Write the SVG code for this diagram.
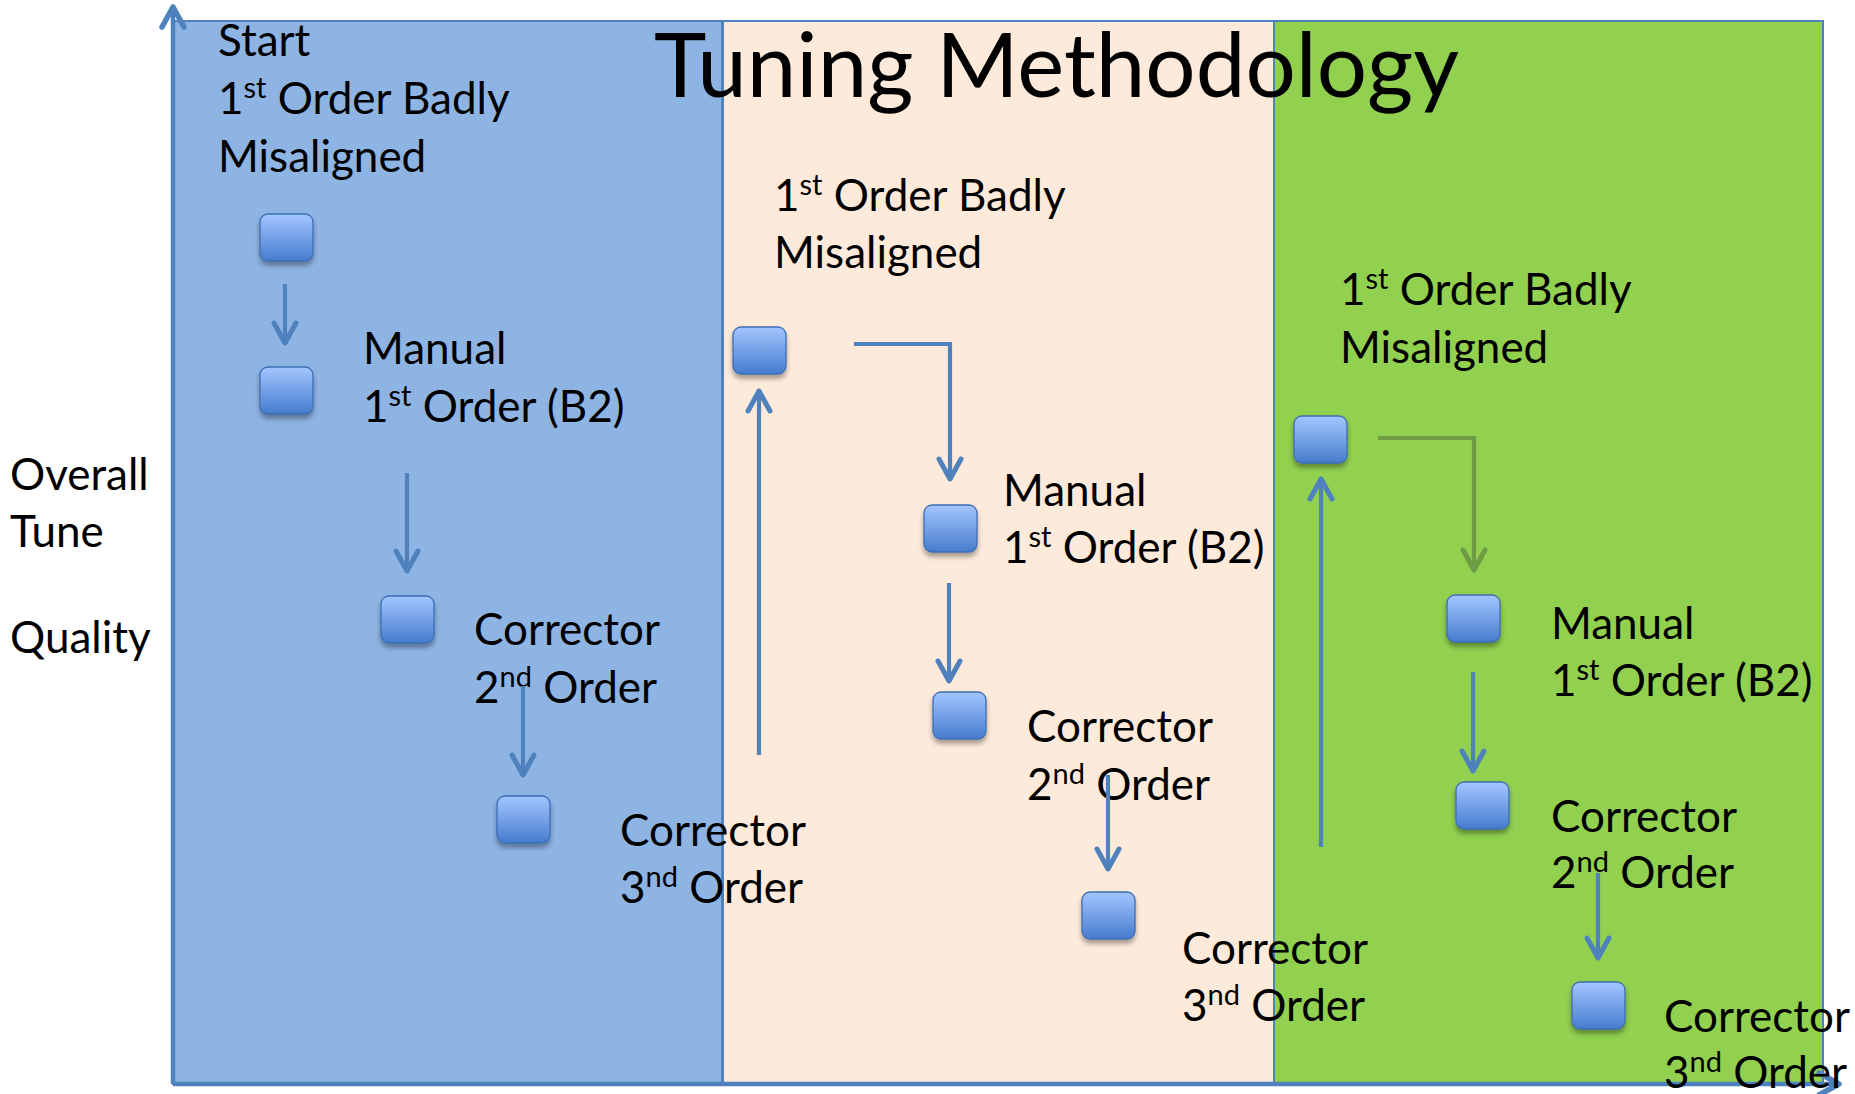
<svg xmlns="http://www.w3.org/2000/svg" width="1855" height="1094" viewBox="0 0 1855 1094">
<style>
.lbl{font-family:Lato,"Open Sans","Liberation Sans",sans-serif;font-size:44px;fill:#000}
.sup{font-size:29px}
.box{fill:url(#bg);stroke:#3D6EB5;stroke-width:1.3;filter:url(#sh)}
.con{fill:none;stroke:#4F81BD;stroke-width:4.2;marker-end:url(#arr)}
.panel{stroke:#4F81BD;stroke-width:2}
</style>
<defs>
<linearGradient id="bg" x1="0" y1="0" x2="0" y2="1">
<stop offset="0" stop-color="#A3C6FF"/>
<stop offset="1" stop-color="#467CCD"/>
</linearGradient>
<filter id="sh" x="-30%" y="-30%" width="160%" height="170%">
<feGaussianBlur in="SourceAlpha" stdDeviation="2.5"/>
<feOffset dy="4" result="b"/>
<feComponentTransfer><feFuncA type="linear" slope="0.35"/></feComponentTransfer>
<feMerge><feMergeNode/><feMergeNode in="SourceGraphic"/></feMerge>
</filter>
<marker id="arr" viewBox="-26 -16 30 32" refX="0" refY="0" markerWidth="30" markerHeight="32" markerUnits="userSpaceOnUse" orient="auto">
<path d="M-20,-11 L0,0 L-20,11" fill="none" stroke="#4F81BD" stroke-width="5" stroke-linejoin="round" stroke-linecap="round"/>
</marker>
<marker id="arrg" viewBox="-26 -16 30 32" refX="0" refY="0" markerWidth="30" markerHeight="32" markerUnits="userSpaceOnUse" orient="auto">
<path d="M-20,-11 L0,0 L-20,11" fill="none" stroke="#6E9C45" stroke-width="5" stroke-linejoin="round" stroke-linecap="round"/>
</marker>
<marker id="arrx" viewBox="-26 -16 30 32" refX="0" refY="0" markerWidth="30" markerHeight="32" markerUnits="userSpaceOnUse" orient="auto">
<path d="M-20,-11 L0,0 L-20,11" fill="none" stroke="#4F81BD" stroke-width="5.5" stroke-linejoin="round" stroke-linecap="round"/>
</marker>
</defs>
<rect width="1855" height="1094" fill="#FFFFFF"/>

<g id="panels">
<rect class="panel" x="173" y="21" width="549" height="1063" fill="#8EB4E3"/>
<rect class="panel" x="723" y="21" width="551" height="1063" fill="#FDEADA"/>
<rect class="panel" x="1274" y="21" width="549" height="1063" fill="#92D050"/>
</g>

<g id="axes">
<line x1="173" y1="1084" x2="173" y2="7" stroke="#4F81BD" stroke-width="4.5" marker-end="url(#arrx)"/>
<line x1="173" y1="1084" x2="1839" y2="1084" stroke="#4F81BD" stroke-width="4.5" marker-end="url(#arrx)"/>
</g>

<g id="title">
<text class="lbl" x="654" y="97" style="font-size:89px" textLength="805" lengthAdjust="spacingAndGlyphs">Tuning Methodology</text>
</g>

<g id="axis-label">
<text class="lbl" x="10" y="490">Overall</text>
<text class="lbl" x="10" y="547">Tune</text>
<text class="lbl" x="10" y="653">Quality</text>
</g>

<g id="p1-start">
<rect class="box" x="260" y="214" width="53" height="47" rx="8"/>
<text class="lbl" x="218" y="56">Start</text>
<text class="lbl" x="218" y="114">1<tspan class="sup" dy="-16">st</tspan><tspan dy="16"> Order Badly</tspan></text>
<text class="lbl" x="218" y="172">Misaligned</text>
</g>
<g id="p1-manual">
<rect class="box" x="260" y="367" width="53" height="47" rx="8"/>
<text class="lbl" x="363" y="364">Manual</text>
<text class="lbl" x="363" y="422">1<tspan class="sup" dy="-16">st</tspan><tspan dy="16"> Order (B2)</tspan></text>
</g>
<g id="p1-corr2">
<rect class="box" x="381" y="596" width="53" height="47" rx="8"/>
<text class="lbl" x="474" y="645">Corrector</text>
<text class="lbl" x="474" y="703">2<tspan class="sup" dy="-16">nd</tspan><tspan dy="16"> Order</tspan></text>
</g>
<g id="p1-corr3">
<rect class="box" x="497" y="796" width="53" height="47" rx="8"/>
<text class="lbl" x="620" y="846">Corrector</text>
<text class="lbl" x="620" y="903">3<tspan class="sup" dy="-16">nd</tspan><tspan dy="16"> Order</tspan></text>
</g>

<g id="p2-start">
<rect class="box" x="733" y="327" width="53" height="47" rx="8"/>
<text class="lbl" x="774" y="211">1<tspan class="sup" dy="-16">st</tspan><tspan dy="16"> Order Badly</tspan></text>
<text class="lbl" x="774" y="268">Misaligned</text>
</g>
<g id="p2-manual">
<rect class="box" x="924" y="505" width="53" height="47" rx="8"/>
<text class="lbl" x="1003" y="506">Manual</text>
<text class="lbl" x="1003" y="563">1<tspan class="sup" dy="-16">st</tspan><tspan dy="16"> Order (B2)</tspan></text>
</g>
<g id="p2-corr2">
<rect class="box" x="933" y="692" width="53" height="47" rx="8"/>
<text class="lbl" x="1027" y="742">Corrector</text>
<text class="lbl" x="1027" y="800">2<tspan class="sup" dy="-16">nd</tspan><tspan dy="16"> Order</tspan></text>
</g>
<g id="p2-corr3">
<rect class="box" x="1082" y="892" width="53" height="47" rx="8"/>
<text class="lbl" x="1182" y="964">Corrector</text>
<text class="lbl" x="1182" y="1021">3<tspan class="sup" dy="-16">nd</tspan><tspan dy="16"> Order</tspan></text>
</g>

<g id="p3-start">
<rect class="box" x="1294" y="416" width="53" height="47" rx="8"/>
<text class="lbl" x="1340" y="305">1<tspan class="sup" dy="-16">st</tspan><tspan dy="16"> Order Badly</tspan></text>
<text class="lbl" x="1340" y="363">Misaligned</text>
</g>
<g id="p3-manual">
<rect class="box" x="1447" y="595" width="53" height="47" rx="8"/>
<text class="lbl" x="1551" y="639">Manual</text>
<text class="lbl" x="1551" y="696">1<tspan class="sup" dy="-16">st</tspan><tspan dy="16"> Order (B2)</tspan></text>
</g>
<g id="p3-corr2">
<rect class="box" x="1456" y="782" width="53" height="47" rx="8"/>
<text class="lbl" x="1551" y="832">Corrector</text>
<text class="lbl" x="1551" y="888">2<tspan class="sup" dy="-16">nd</tspan><tspan dy="16"> Order</tspan></text>
</g>
<g id="p3-corr3">
<rect class="box" x="1572" y="982" width="53" height="47" rx="8"/>
<text class="lbl" x="1664" y="1032">Corrector</text>
<text class="lbl" x="1664" y="1088">3<tspan class="sup" dy="-16">nd</tspan><tspan dy="16"> Order</tspan></text>
</g>

<g id="connectors">
<path class="con" d="M285,284 L285,343"/>
<path class="con" d="M407,473 L407,571"/>
<path class="con" d="M523,686 L523,775"/>
<path class="con" d="M759,755 L759,391"/>
<path class="con" d="M854,344 L950,344 L950,479"/>
<path class="con" d="M949,583 L949,681"/>
<path class="con" d="M1108,775 L1108,869"/>
<path class="con" d="M1321,847 L1321,479"/>
<path class="con" d="M1378,438 L1474,438 L1474,570" style="stroke:#6E9C45;marker-end:url(#arrg)"/>
<path class="con" d="M1473,672 L1473,771"/>
<path class="con" d="M1598,873 L1598,958"/>
</g>
</svg>
